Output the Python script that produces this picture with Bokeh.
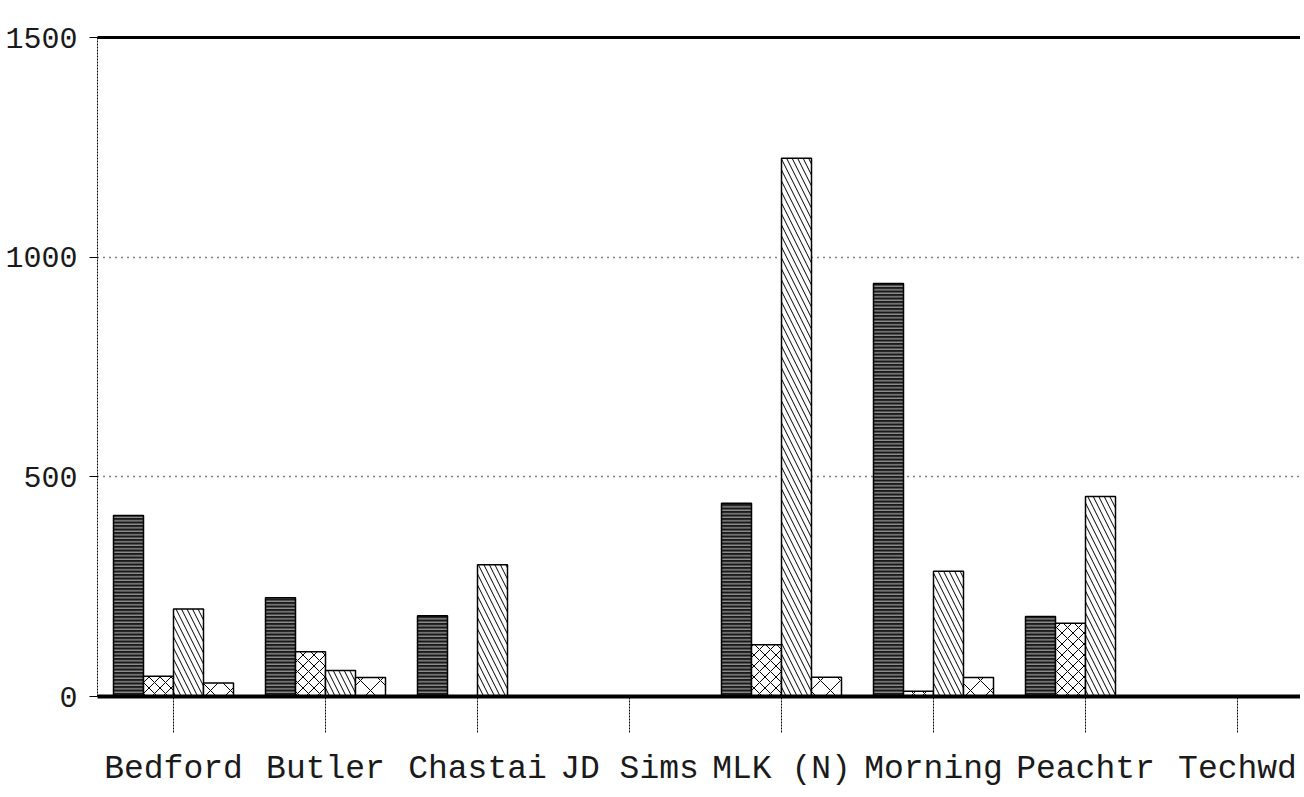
from bokeh.plotting import figure
from bokeh.models import Range1d, FixedTicker, ColumnDataSource, LinearAxis
from bokeh.embed import file_html
from bokeh.resources import INLINE

categories = ["Bedford", "Butler", "Chastai", "JD Sims", "MLK (N)", "Morning", "Peachtr", "Techwd"]
series1 = [412, 225, 184, 0, 440, 940, 182, 0]
series2 = [46, 102, 0, 0, 118, 12, 167, 0]
series3 = [199, 59, 300, 0, 1225, 285, 455, 0]
series4 = [31, 43, 0, 0, 44, 43, 0, 0]
y_ticks = [0, 500, 1000, 1500]
grid_ticks = [500, 1000]

FONT = "Liberation Mono"

W, H = 1300, 793
LEFT, TOP = 97, 37
FRAME_BOTTOM = 696
BOTTOM = H - FRAME_BOTTOM
slot_px = 152.0
frame_w = W - LEFT
x_end = frame_w / slot_px

p = figure(width=W, height=H, output_backend="svg", toolbar_location=None,
           x_range=Range1d(0, x_end), y_range=Range1d(0, 1500),
           min_border_left=LEFT, min_border_right=0, min_border_top=TOP,
           min_border_bottom=BOTTOM, background_fill_color="white",
           border_fill_color="white", outline_line_color=None)

centers = [i + 0.5 for i in range(len(categories))]
bw = 30 / slot_px
offsets = [-1.5 * bw, -0.5 * bw, 0.5 * bw, 1.5 * bw]

styles = [
    dict(fill_color="#1a1a1a", hatch_pattern="horizontal_line", hatch_color="#bdbdbd",
         hatch_scale=3.5, hatch_weight=1),
    dict(fill_color="white", hatch_pattern="diagonal_cross", hatch_color="black",
         hatch_scale=11, hatch_weight=1),
    dict(fill_color="white", hatch_pattern="left_diagonal_line", hatch_color="black",
         hatch_scale=11, hatch_weight=1),
    dict(fill_color="white", hatch_pattern="diagonal_cross", hatch_color="black",
         hatch_scale=20, hatch_weight=1),
]

for vals, off, st in zip([series1, series2, series3, series4], offsets, styles):
    src = ColumnDataSource(dict(x=[c + off for c in centers], top=vals))
    p.vbar(x="x", top="top", bottom=0, width=bw, source=src,
           line_color="black", line_width=1.5, **st)

# axes styling
p.xaxis.ticker = FixedTicker(ticks=centers)
p.xaxis.major_label_overrides = {c: n for c, n in zip(centers, categories)}
p.xaxis.axis_line_width = 4
p.xaxis.axis_line_color = "black"
p.xaxis.major_tick_out = 36
p.xaxis.major_tick_in = 0
p.xaxis.major_tick_line_width = 1
p.xaxis.major_tick_line_dash = "2 1"
p.xaxis.minor_tick_line_color = None
p.xaxis.major_label_standoff = 18
p.xaxis.major_label_text_font = FONT
p.xaxis.major_label_text_font_size = "33px"
p.xaxis.major_label_text_color = "#1a1a1a"

p.yaxis.ticker = FixedTicker(ticks=y_ticks)
p.yaxis.axis_line_width = 1
p.yaxis.axis_line_dash = "2 1"
p.yaxis.major_tick_out = 8
p.yaxis.major_tick_in = 0
p.yaxis.major_tick_line_width = 1
p.yaxis.minor_tick_line_color = None
p.yaxis.major_label_standoff = 12
p.yaxis.major_label_text_font = FONT
p.yaxis.major_label_text_font_size = "30px"
p.yaxis.major_label_text_color = "#1a1a1a"

p.xgrid.grid_line_color = None
p.ygrid.ticker = FixedTicker(ticks=grid_ticks)
p.ygrid.grid_line_color = "black"
p.ygrid.grid_line_dash = "1 5"
p.ygrid.grid_line_width = 1.5

# heavy top border line drawn as an unlabeled axis
top_axis = LinearAxis(major_tick_line_color=None, minor_tick_line_color=None,
                      major_label_text_font_size="0px", axis_line_width=3,
                      axis_line_color="black")
top_axis.ticker = FixedTicker(ticks=[])
p.add_layout(top_axis, "above")

open("out.html", "w").write(file_html(p, INLINE))
